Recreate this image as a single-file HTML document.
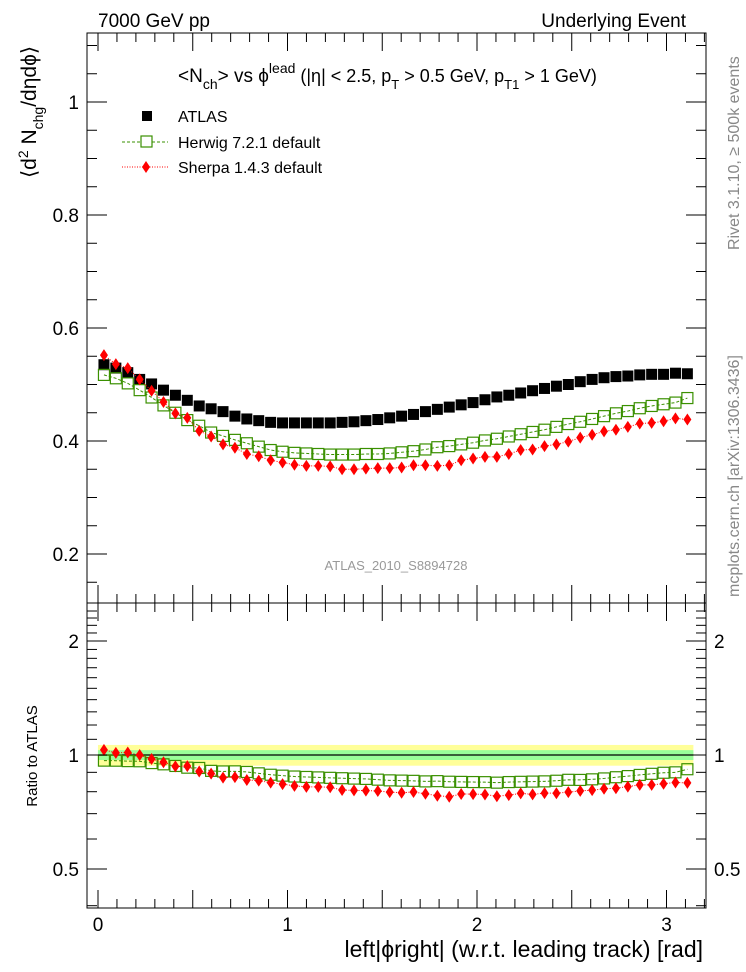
<!DOCTYPE html>
<html><head><meta charset="utf-8"><style>
html,body{margin:0;padding:0;background:#fff;}
svg{display:block;font-family:"Liberation Sans",sans-serif;}
</style></head><body>
<svg id="c" width="746" height="972" viewBox="0 0 746 972" xmlns="http://www.w3.org/2000/svg">
<text x="98" y="27" font-size="19">7000 GeV pp</text>
<text x="686" y="27" font-size="19" text-anchor="end">Underlying Event</text>
<text x="178" y="82" font-size="19">&lt;N<tspan font-size="14" dy="7">ch</tspan><tspan dy="-7">&gt; vs ϕ</tspan><tspan font-size="14" dy="-9">lead</tspan><tspan font-size="18" dy="9"> (|η| &lt; 2.5, p</tspan><tspan font-size="13" dy="7">T</tspan><tspan font-size="18" dy="-7"> &gt; 0.5 GeV, p</tspan><tspan font-size="13" dy="7">T1</tspan><tspan font-size="18" dy="-7"> &gt; 1 GeV)</tspan></text>
<text transform="translate(36,112) rotate(-90)" font-size="21" text-anchor="middle">⟨d<tspan font-size="14" dy="-8">2</tspan><tspan dy="8"> N</tspan><tspan font-size="14" dy="7">chg</tspan><tspan dy="-7">/dηdϕ⟩</tspan></text>
<text transform="translate(37,756) rotate(-90)" font-size="15" text-anchor="middle">Ratio to ATLAS</text>
<text x="703" y="957" font-size="23" text-anchor="end">left|ϕright| (w.r.t. leading track) [rad]</text>
<text transform="translate(739,250) rotate(-90)" font-size="16" fill="#888">Rivet 3.1.10, ≥ 500k events</text>
<text transform="translate(739,597) rotate(-90)" font-size="16" fill="#888">mcplots.cern.ch [arXiv:1306.3436]</text>
<text x="396" y="570" font-size="13" fill="#999" text-anchor="middle">ATLAS_2010_S8894728</text>
<g>
<rect x="142" y="111" width="10" height="10" fill="#000"/>
<text x="178" y="122" font-size="16">ATLAS</text>
<line x1="122" y1="142" x2="168" y2="142" stroke="#3a9000" stroke-dasharray="3,2"/>
<rect x="141" y="136" width="11" height="11" fill="#fff" stroke="#3a9000" stroke-width="1.2"/>
<text x="178" y="148" font-size="16">Herwig 7.2.1 default</text>
<line x1="122" y1="167" x2="168" y2="167" stroke="red" stroke-dasharray="1,1.5"/>
<polygon points="146,161 150,167 146,173 142,167" fill="red"/>
<text x="178" y="173" font-size="16">Sherpa 1.4.3 default</text>
</g>
<g id="g"></g>
</svg>
<script>
const dataVals=[0.535,0.529,0.521,0.509,0.501,0.490,0.481,0.472,0.462,0.457,0.452,0.444,0.439,0.436,0.433,0.432,0.432,0.432,0.432,0.432,0.433,0.434,0.436,0.438,0.441,0.444,0.447,0.452,0.456,0.460,0.464,0.468,0.473,0.478,0.481,0.485,0.489,0.493,0.497,0.500,0.505,0.509,0.512,0.514,0.515,0.517,0.518,0.518,0.520,0.519];
const herwigVals=[0.517,0.511,0.502,0.490,0.477,0.463,0.450,0.437,0.427,0.415,0.409,0.402,0.396,0.390,0.384,0.381,0.379,0.378,0.377,0.376,0.376,0.376,0.377,0.377,0.378,0.380,0.382,0.385,0.389,0.391,0.394,0.397,0.401,0.404,0.408,0.412,0.416,0.420,0.425,0.430,0.434,0.439,0.444,0.449,0.453,0.458,0.462,0.465,0.468,0.476];
const sherpaVals=[0.552,0.536,0.529,0.509,0.489,0.469,0.449,0.441,0.418,0.408,0.394,0.388,0.377,0.373,0.366,0.362,0.358,0.356,0.356,0.355,0.350,0.350,0.351,0.352,0.352,0.353,0.357,0.357,0.356,0.357,0.366,0.369,0.372,0.372,0.377,0.384,0.385,0.391,0.394,0.399,0.406,0.411,0.417,0.420,0.425,0.431,0.432,0.435,0.440,0.438];
const statBand=0.03, totBand=0.063;
const mainTicks=[0.2,0.4,0.6,0.8,1];
const ratioTicks=[0.5,1,2];
const xTicks=[0,1,2,3];
const NS="http://www.w3.org/2000/svg";
const L=87,R=706,T1=33,B1=603,B2=908;
const X=v=>98+v*189.5;
const Y=v=>102+(1-v)*565;
const YR=v=>755-Math.log2(v)*114;
const g=document.getElementById('g');
function mk(t,a,p){const e=document.createElementNS(NS,t);for(const k in a)e.setAttribute(k,a[k]);(p||g).appendChild(e);return e;}
const n=dataVals.length;
const xs=dataVals.map((_,i)=>(i+0.5)*Math.PI/n);
let yb=mk('rect',{x:X(xs[0])-6,y:YR(1+totBand),width:X(xs[n-1])-X(xs[0])+12,height:YR(1-totBand)-YR(1+totBand),fill:'#ffff99'});

let gb=mk('rect',{x:X(xs[0])-6,y:YR(1+statBand),width:X(xs[n-1])-X(xs[0])+12,height:YR(1-statBand)-YR(1+statBand),fill:'#99ff99'});

let l1=mk('line',{x1:X(xs[0])-6,x2:X(xs[n-1])+6,y1:YR(1),y2:YR(1),stroke:'#000','stroke-width':1.2});

function series(vals,yf,kind,name){
  const pts=vals.map((v,i)=>X(xs[i])+','+yf(v)).join(' ');
  if(kind!=='data'){
    const pl=mk('polyline',{points:pts,fill:'none',stroke:kind==='h'?'#3a9000':'red','stroke-dasharray':kind==='h'?'3,2':'1,1.5','stroke-width':1});
    
    
  }
  vals.forEach((v,i)=>{
    const x=X(xs[i]),y=yf(v);let e;
    if(kind==='data')e=mk('rect',{x:x-5.5,y:y-5.5,width:11,height:11,fill:'#000'});
    else if(kind==='h')e=mk('rect',{x:x-5.5,y:y-5.5,width:11,height:11,fill:'none',stroke:'#3a9000','stroke-width':1.2});
    else e=mk('polygon',{points:`${x},${y-6} ${x+4},${y} ${x},${y+6} ${x-4},${y}`,fill:'red'});
    
    
  });
}
series(dataVals,Y,'data','atlas');
series(herwigVals,Y,'h','herwig');
series(sherpaVals,Y,'s','sherpa');
series(herwigVals.map((v,i)=>v/dataVals[i]),YR,'h','herwig-ratio');
series(sherpaVals.map((v,i)=>v/dataVals[i]),YR,'s','sherpa-ratio');
const f1=mk('rect',{x:L,y:T1,width:R-L,height:B1-T1,fill:'none',stroke:'#000','stroke-width':1});

const f2=mk('rect',{x:L,y:B1,width:R-L,height:B2-B1,fill:'none',stroke:'#000','stroke-width':1});

for(let v=0.15;v<=1.12;v+=0.05){const y=Y(v);const maj=Math.abs(v*10-Math.round(v*10))<0.01&&Math.round(v*10)%2===0;const w=maj?20:10;
 const a=mk('line',{x1:L,x2:L+w,y1:y,y2:y,stroke:'#000'});
 const b=mk('line',{x1:R-w,x2:R,y1:y,y2:y,stroke:'#000'});}
mainTicks.forEach(v=>{const t=mk('text',{x:L-8,y:Y(v)+7,'font-size':19,'text-anchor':'end'});t.textContent=(v===1?'1':String(v));
 });
for(let v=0.4;v<=2.5;v+=0.1){const y=YR(v);if(y<B1||y>B2)continue;const maj=[0.5,1,2].some(m=>Math.abs(m-v)<0.01);const w=maj?20:10;
 const a=mk('line',{x1:L,x2:L+w,y1:y,y2:y,stroke:'#000'});
 const b=mk('line',{x1:R-w,x2:R,y1:y,y2:y,stroke:'#000'});}
ratioTicks.forEach(v=>{const t=mk('text',{x:L-8,y:YR(v)+7,'font-size':19,'text-anchor':'end'});t.textContent=String(v);
 
 const t2=mk('text',{x:R+8,y:YR(v)+7,'font-size':19});t2.textContent=String(v);
 });
for(let k=0;k<=32;k++){const v=k*0.1;const x=X(v);if(x<L||x>R)continue;const maj=k%5===0;const w=maj?18:9;
 [[T1,T1+w],[B1-w,B1],[B1,B1+w],[B2-w,B2]].forEach(p=>{const a=mk('line',{x1:x,x2:x,y1:p[0],y2:p[1],stroke:'#000'});
 });}
xTicks.forEach(v=>{const t=mk('text',{x:X(v),y:B2+23,'font-size':19,'text-anchor':'middle'});t.textContent=String(v);
 });
</script>
</body></html>
